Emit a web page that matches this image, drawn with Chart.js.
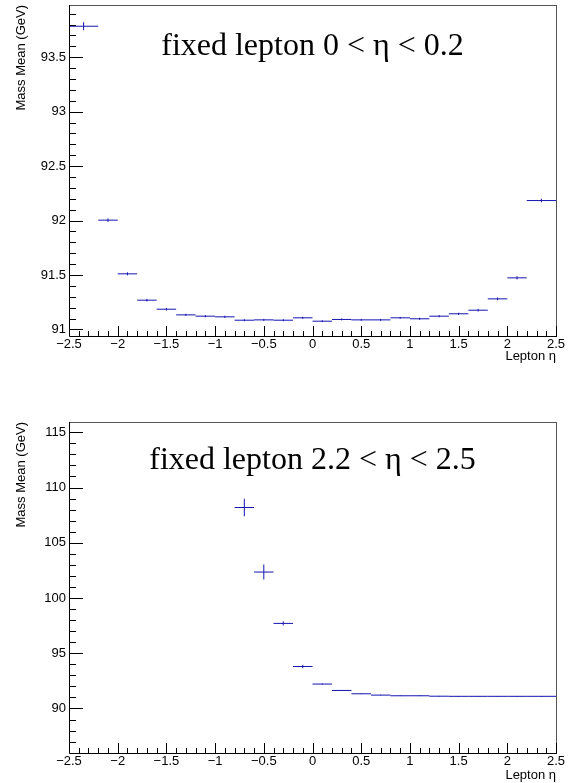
<!DOCTYPE html>
<html>
<head>
<meta charset="utf-8">
<title>Mass mean vs lepton eta</title>
<script src="https://cdn.jsdelivr.net/npm/chart.js@4.4.1/dist/chart.umd.min.js"></script>
<style>
  body { margin: 0; background: #fff; }
  canvas { position: absolute; left: 0; }
  #topChart { top: 0; }
  #bottomChart { top: 383px; }
</style>
</head>
<body>
<canvas id="topChart" width="579" height="383"></canvas>
<canvas id="bottomChart" width="579" height="400"></canvas>
<script>
// eta bins (lower / upper edge)
const binLow  = [-2.5, -2.2, -2.0, -1.8, -1.6, -1.4, -1.2, -1.0, -0.8, -0.6, -0.4, -0.2,
                  0.0,  0.2,  0.4,  0.6,  0.8,  1.0,  1.2,  1.4,  1.6,  1.8,  2.0,  2.2];
const binHigh = [-2.2, -2.0, -1.8, -1.6, -1.4, -1.2, -1.0, -0.8, -0.6, -0.4, -0.2,  0.0,
                  0.2,  0.4,  0.6,  0.8,  1.0,  1.2,  1.4,  1.6,  1.8,  2.0,  2.2,  2.5];

// other lepton fixed at 0 < eta < 0.2
const meanCentral = [93.785, 92.004, 91.511, 91.269, 91.186, 91.134, 91.122, 91.116,
                     91.085, 91.088, 91.085, 91.107, 91.076, 91.092, 91.088, 91.088,
                     91.107, 91.098, 91.122, 91.144, 91.177, 91.281, 91.474, 92.184];
const errCentral  = [0.037, 0.016, 0.014, 0.012, 0.012, 0.010, 0.010, 0.010,
                     0.009, 0.009, 0.009, 0.009, 0.009, 0.009, 0.009, 0.009,
                     0.009, 0.010, 0.010, 0.010, 0.012, 0.013, 0.015, 0.016];

// other lepton fixed at 2.2 < eta < 2.5
const meanForward = [null, null, null, null, null, null, null, null,
                     108.19, 102.35, 97.70, 93.80, 92.21, 91.63, 91.33, 91.21,
                     91.15, 91.15, 91.11, 91.10, 91.10, 91.10, 91.10, 91.10];
const errForward  = [0, 0, 0, 0, 0, 0, 0, 0,
                     0.79, 0.68, 0.18, 0.15, 0.05, 0.04, 0.03, 0.03,
                     0.03, 0.03, 0.03, 0.03, 0.03, 0.03, 0.03, 0.03];

const panelLabels = ['fixed lepton 0 < \u03b7 < 0.2', 'fixed lepton 2.2 < \u03b7 < 2.5'];

const sansFont = 'Liberation Sans';
const markColor = '#1414b0';

function fmt(v) {
    return String(Math.round(v * 10) / 10).replace('-', '\u2212');
}

function binPoints(mean, err) {
    return binLow.map((lo, i) => ({
        x: (lo + binHigh[i]) / 2, y: mean[i], lo: lo, hi: binHigh[i], err: err[i]
    }));
}

// error bars, frame, inward ticks and the panel caption
const rootStyle = {
    id: 'rootStyle',
    afterDatasetsDraw(chart) {
        const ctx = chart.ctx;
        const area = chart.chartArea;
        const xs = chart.scales.x, ys = chart.scales.y;
        const pts = chart.data.datasets[0].data;
        ctx.save();
        ctx.beginPath();
        ctx.rect(area.left, area.top, area.right - area.left, area.bottom - area.top);
        ctx.clip();
        ctx.strokeStyle = markColor;
        ctx.lineWidth = 1;
        pts.forEach(p => {
            if (p.y === null) return;
            const y = ys.getPixelForValue(p.y);
            const xc = xs.getPixelForValue(p.x);
            ctx.beginPath();
            ctx.moveTo(xs.getPixelForValue(p.lo), y);
            ctx.lineTo(xs.getPixelForValue(p.hi), y);
            ctx.moveTo(xc, ys.getPixelForValue(p.y - p.err));
            ctx.lineTo(xc, ys.getPixelForValue(p.y + p.err));
            ctx.stroke();
        });
        ctx.restore();
    },
    afterDraw(chart, args, opts) {
        const ctx = chart.ctx;
        const {left, right, top, bottom} = chart.chartArea;
        const xs = chart.scales.x, ys = chart.scales.y;
        ctx.save();
        ctx.lineWidth = 1;

        // frame
        ctx.strokeStyle = '#555';
        ctx.beginPath();
        ctx.moveTo(left, top + 0.5); ctx.lineTo(right + 0.5, top + 0.5);
        ctx.moveTo(right + 0.5, top); ctx.lineTo(right + 0.5, bottom);
        ctx.stroke();
        ctx.strokeStyle = '#000';
        ctx.beginPath();
        ctx.moveTo(left + 0.5, top); ctx.lineTo(left + 0.5, bottom + 0.5);
        ctx.lineTo(right + 1, bottom + 0.5);
        ctx.stroke();

        // x ticks
        ctx.beginPath();
        for (let k = Math.ceil(xs.min / 0.1 - 1e-6); k <= Math.floor(xs.max / 0.1 + 1e-6); k++) {
            const px = Math.round(xs.getPixelForValue(k * 0.1)) + 0.5;
            const len = (k % 5 === 0) ? 10 : 5;
            ctx.moveTo(px, bottom);
            ctx.lineTo(px, bottom - len);
        }
        // y ticks
        const minor = opts.yMinor, major = opts.yMajor;
        for (let k = Math.ceil(ys.min / minor - 1e-6); k <= Math.floor(ys.max / minor + 1e-6); k++) {
            const v = k * minor;
            const py = Math.round(ys.getPixelForValue(v)) + 0.5;
            const isMajor = Math.abs(v / major - Math.round(v / major)) < 1e-6;
            ctx.moveTo(left + 1, py);
            ctx.lineTo(left + (isMajor ? 14 : 7), py);
        }
        ctx.stroke();

        // caption
        ctx.fillStyle = '#000';
        ctx.font = '32px "Liberation Serif"';
        ctx.textAlign = 'center';
        ctx.textBaseline = 'alphabetic';
        ctx.fillText(opts.caption, (left + right) / 2, top + opts.captionOffset);
        ctx.restore();
    }
};

function makeChart(id, cfg) {
    const ctx = document.getElementById(id);
    return new Chart(ctx, {
        type: 'scatter',
        data: {
            datasets: [{
                data: binPoints(cfg.mean, cfg.err),
                pointRadius: 0,
                pointHoverRadius: 0,
                showLine: false
            }]
        },
        options: {
            responsive: false,
            animation: false,
            devicePixelRatio: 1,
            layout: { padding: { left: 0, right: 23, top: cfg.padTop, bottom: 0 } },
            plugins: {
                legend: { display: false },
                tooltip: { enabled: false },
                rootStyle: {
                    yMinor: cfg.yMinor, yMajor: cfg.yMajor,
                    caption: cfg.caption, captionOffset: cfg.captionOffset
                }
            },
            scales: {
                x: {
                    type: 'linear',
                    min: -2.5,
                    max: 2.5,
                    grid: { display: false, drawTicks: false },
                    border: { display: false },
                    ticks: {
                        stepSize: 0.5,
                        padding: 1,
                        autoSkip: false,
                        maxRotation: 0,
                        includeBounds: false,
                        color: '#000',
                        font: { family: sansFont, size: 13 },
                        callback: v => fmt(v)
                    },
                    title: {
                        display: true,
                        text: 'Lepton \u03b7',
                        align: 'end',
                        color: '#000',
                        font: { family: sansFont, size: 13 },
                        padding: { top: 0, bottom: cfg.xTitlePad }
                    },
                    afterFit: s => { s.height = cfg.xAxisHeight; s.paddingLeft = 0; s.paddingRight = 0; }
                },
                y: {
                    type: 'linear',
                    min: cfg.yMin,
                    max: cfg.yMax,
                    grid: { display: false, drawTicks: false },
                    border: { display: false },
                    ticks: {
                        stepSize: cfg.yMajor,
                        padding: 3,
                        includeBounds: false,
                        color: '#000',
                        font: { family: sansFont, size: 13 },
                        callback: v => fmt(v)
                    },
                    title: {
                        display: true,
                        text: 'Mass Mean (GeV)',
                        align: 'end',
                        color: '#000',
                        font: { family: sansFont, size: 13 },
                        padding: { top: 14, bottom: 0 }
                    },
                    afterFit: s => { s.width = 69; s.paddingTop = 0; s.paddingBottom = 0; }
                }
            }
        },
        plugins: [rootStyle]
    });
}

makeChart('topChart', {
    mean: meanCentral, err: errCentral,
    yMin: 90.94, yMax: 93.98, yMajor: 0.5, yMinor: 0.1,
    padTop: 5, xAxisHeight: 47, xTitlePad: 19,
    caption: panelLabels[0], captionOffset: 50
});

makeChart('bottomChart', {
    mean: meanForward, err: errForward,
    yMin: 85.97, yMax: 115.93, yMajor: 5, yMinor: 1,
    padTop: 39, xAxisHeight: 30, xTitlePad: 0,
    caption: panelLabels[1], captionOffset: 47
});
</script>
</body>
</html>
